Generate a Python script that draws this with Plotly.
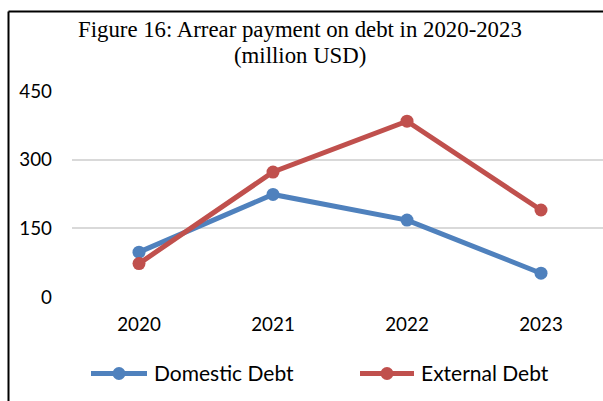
import plotly.graph_objects as go

years = ["2020", "2021", "2022", "2023"]
domestic_debt = [98, 224, 168, 52]
external_debt = [73, 273, 384, 190]
y_ticks = [0, 150, 300, 450]
series_names = ["Domestic Debt", "External Debt"]
series_colors = ["#4F81BD", "#C0504D"]

W, H = 603, 401
L, R, T, B = 72, 0, 91, 104
plot_w = W - L - R
plot_h = H - T - B


def px_to_paper_x(px):
    return (px - L) / plot_w


def px_to_paper_y(py):
    return (H - B - py) / plot_h


fig = go.Figure()
for name, values, color in zip(series_names, [domestic_debt, external_debt], series_colors):
    fig.add_trace(go.Scatter(
        x=years, y=values, name=name, mode="lines+markers",
        line=dict(color=color, width=5),
        marker=dict(color=color, size=13),
        showlegend=False,
    ))

# category band is 134 px wide; the plot runs off the right edge of the page
band = 134.0
x_end = -0.5 + plot_w / band

# frame lines at the top and left of the page
frame = dict(color="black", width=2)
fig.add_shape(type="line", xref="paper", yref="paper",
              x0=px_to_paper_x(8.5), x1=px_to_paper_x(W + 5),
              y0=px_to_paper_y(11.5), y1=px_to_paper_y(11.5), line=frame)
fig.add_shape(type="line", xref="paper", yref="paper",
              x0=px_to_paper_x(8.5), x1=px_to_paper_x(8.5),
              y0=px_to_paper_y(11.5), y1=px_to_paper_y(H + 5), line=frame)

# title, two lines
title_font = dict(family="Liberation Serif", size=22.8, color="black")
for text, cy in [("Figure 16: Arrear payment on debt in 2020-2023", 29.5),
                 ("(million USD)", 55)]:
    fig.add_annotation(text=text, xref="paper", yref="paper",
                       x=px_to_paper_x(300), y=px_to_paper_y(cy),
                       xanchor="center", yanchor="middle",
                       showarrow=False, font=title_font)

# legend: line swatch with a marker, followed by the series name
legend_y = 373.5
legend_items = [(91, 147, 152), (360, 414, 419)]
for (x0, x1, tx), name, color in zip(legend_items, series_names, series_colors):
    fig.add_shape(type="line", xref="paper", yref="paper",
                  x0=px_to_paper_x(x0), x1=px_to_paper_x(x1),
                  y0=px_to_paper_y(legend_y), y1=px_to_paper_y(legend_y),
                  line=dict(color=color, width=5))
    cx, r = (x0 + x1) / 2, 6.5
    fig.add_shape(type="circle", xref="paper", yref="paper",
                  x0=px_to_paper_x(cx - r), x1=px_to_paper_x(cx + r),
                  y0=px_to_paper_y(legend_y + r), y1=px_to_paper_y(legend_y - r),
                  fillcolor=color, line=dict(width=0))
    fig.add_annotation(text=name, xref="paper", yref="paper",
                       x=px_to_paper_x(tx), y=px_to_paper_y(legend_y - 1.5),
                       xanchor="left", yanchor="middle", showarrow=False,
                       font=dict(family="Lato", size=21, color="black"))

fig.update_layout(
    width=W, height=H,
    margin=dict(l=L, r=R, t=T, b=B),
    paper_bgcolor="white", plot_bgcolor="white",
    xaxis=dict(
        type="category", range=[-0.5, x_end],
        showgrid=False, showline=False, zeroline=False, ticks="",
        tickfont=dict(family="Lato", size=18.8, color="black"),
        ticklabelstandoff=14,
    ),
    yaxis=dict(
        range=[0, 450], tickvals=y_ticks,
        showgrid=True, gridcolor="#D9D9D9", gridwidth=1.5,
        zeroline=False, showline=False, ticks="",
        tickfont=dict(family="Lato", size=18.8, color="black"),
        ticklabelstandoff=19,
    ),
    showlegend=False,
)

fig.write_html("out.html")
